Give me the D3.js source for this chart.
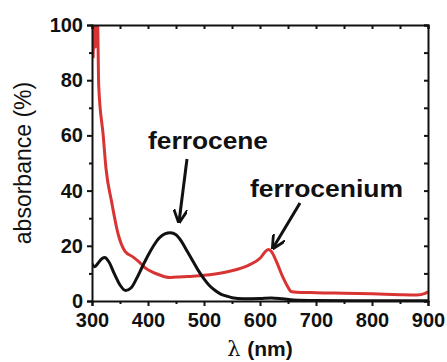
<!DOCTYPE html>
<html>
<head>
<meta charset="utf-8">
<script src="https://cdn.jsdelivr.net/npm/d3@7"></script>
<style>
  body { margin: 0; background: #fff; }
  svg { display: block; font-family: "Liberation Sans", Arial, sans-serif; }
  .axis path, .axis line { stroke: #111; stroke-width: 2; }
  .axis text { font-size: 20px; font-weight: bold; fill: #111; }
</style>
</head>
<body>
<div id="chart"></div>
<script>
'use strict';

// ferrocene (black)
const ferroceneNm  = [300, 305, 310, 318, 323, 330, 340, 350, 360, 370, 380, 390, 400, 410, 420, 430, 440, 450, 460, 470, 480, 490, 500, 510, 520, 530, 540, 550, 570, 600, 620, 640, 660, 700, 800, 900];
const ferroceneAbs = [13.5, 12.4, 13.5, 15.4, 15.8, 14.2, 9.8, 5.8, 3.8, 4.8, 8.3, 12.5, 16.5, 20, 22.8, 24.3, 24.7, 24, 21.5, 18, 14.5, 11, 8, 5.5, 3.8, 2.5, 1.8, 1.2, 0.8, 0.9, 1.1, 0.8, 0.4, 0.2, 0.1, 0.1];

// ferrocenium (red)
const ferroceniumNm  = [302, 304, 306, 308, 310, 312, 320, 325, 335, 347, 359, 373, 385, 395, 410, 420, 430, 440, 460, 480, 500, 520, 540, 560, 580, 600, 610, 615, 620, 630, 640, 650, 655, 660, 700, 750, 800, 850, 880, 895, 900];
const ferroceniumAbs = [88, 100, 92, 100, 100, 78, 60, 48, 36, 24, 18, 16, 14, 12, 10.3, 9.5, 8.8, 8.5, 8.8, 9, 9.3, 9.8, 10.5, 11.5, 13, 15.5, 18, 18.7, 18, 14, 9, 5, 3.5, 3.3, 3, 2.8, 2.6, 2.3, 2.2, 2.8, 3.3];

const xMajor = [300, 400, 500, 600, 700, 800, 900];
const xMinor = [350, 450, 550, 650, 750, 850];
const yMajor = [0, 20, 40, 60, 80, 100];
const yMinor = [10, 30, 50, 70, 90];

const W = 447, H = 362;
const margin = {top: 25, right: 19, bottom: 61, left: 92};

const svg = d3.select("#chart").append("svg")
  .attr("width", W)
  .attr("height", H);

const x = d3.scaleLinear().domain([300, 900]).range([margin.left, W - margin.right]);
const y = d3.scaleLinear().domain([0, 100]).range([H - margin.bottom, margin.top]);

svg.append("clipPath").attr("id", "clip")
  .append("rect")
  .attr("x", x(300)).attr("y", y(100))
  .attr("width", x(900) - x(300)).attr("height", y(0) - y(100));

const line = d3.line()
  .x(function(d) { return x(d[0]); })
  .y(function(d) { return y(d[1]); })
  .curve(d3.curveMonotoneX);

const plot = svg.append("g").attr("clip-path", "url(#clip)");

plot.append("path")
  .datum(d3.zip(ferroceniumNm, ferroceniumAbs))
  .attr("fill", "none")
  .attr("stroke", "#d93434")
  .attr("stroke-width", 3)
  .attr("stroke-linejoin", "round")
  .attr("d", line);

plot.append("path")
  .datum(d3.zip(ferroceneNm, ferroceneAbs))
  .attr("fill", "none")
  .attr("stroke", "#111")
  .attr("stroke-width", 3)
  .attr("stroke-linejoin", "round")
  .attr("d", line);

// axes
const bottomAxis = svg.append("g").attr("class", "axis")
  .attr("transform", "translate(0," + y(0) + ")");
bottomAxis.call(d3.axisBottom(x).tickValues(xMajor).tickSize(5).tickPadding(7).tickFormat(d3.format("d")));
bottomAxis.append("g").call(d3.axisBottom(x).tickValues(xMinor).tickSize(3).tickFormat(""))
  .select(".domain").remove();

const leftAxis = svg.append("g").attr("class", "axis")
  .attr("transform", "translate(" + x(300) + ",0)");
leftAxis.call(d3.axisLeft(y).tickValues(yMajor).tickSize(5).tickPadding(4).tickFormat(d3.format("d")));
leftAxis.append("g").call(d3.axisLeft(y).tickValues(yMinor).tickSize(3).tickFormat(""))
  .select(".domain").remove();

const topAxis = svg.append("g").attr("class", "axis")
  .attr("transform", "translate(0," + y(100) + ")");
topAxis.call(d3.axisTop(x).tickValues(xMajor.concat(xMinor)).tickSize(-4).tickFormat(""));

const rightAxis = svg.append("g").attr("class", "axis")
  .attr("transform", "translate(" + x(900) + ",0)");
rightAxis.call(d3.axisRight(y).tickValues(yMajor.concat(yMinor)).tickSize(-4).tickFormat(""));

// axis titles
svg.append("text")
  .attr("transform", "translate(31," + ((y(0) + y(100)) / 2) + ") rotate(-90)")
  .attr("text-anchor", "middle")
  .style("font-size", "23px")
  .attr("fill", "#111")
  .text("absorbance (%)");

const xt = svg.append("text")
  .attr("x", (x(300) + x(900)) / 2)
  .attr("y", 356)
  .attr("text-anchor", "middle")
  .style("font-size", "21px")
  .attr("fill", "#111");
xt.append("tspan").attr("font-family", "DejaVu Serif").text("λ ");
xt.append("tspan").attr("font-weight", "bold").text("(nm)");

// annotations
svg.append("defs").append("marker")
  .attr("id", "arrow")
  .attr("viewBox", "0 0 10 10")
  .attr("refX", 9).attr("refY", 5)
  .attr("markerWidth", 14).attr("markerHeight", 14)
  .attr("markerUnits", "userSpaceOnUse")
  .attr("orient", "auto")
  .append("path")
  .attr("d", "M0,0 L10,5 L0,10")
  .attr("fill", "none")
  .attr("stroke", "#111")
  .attr("stroke-width", 2);

const labels = [
  {text: "ferrocene", tx: 148, ty: 149, len: 120, x1: 187, y1: 159, x2: 179, y2: 222},
  {text: "ferrocenium", tx: 250, ty: 197, len: 153, x1: 300, y1: 203, x2: 273, y2: 248}
];

labels.forEach(function(l) {
  svg.append("text")
    .attr("x", l.tx).attr("y", l.ty)
    .attr("textLength", l.len)
    .attr("lengthAdjust", "spacingAndGlyphs")
    .style("font-size", "23px")
    .style("font-weight", "bold")
    .attr("fill", "#111")
    .text(l.text);
  svg.append("line")
    .attr("x1", l.x1).attr("y1", l.y1)
    .attr("x2", l.x2).attr("y2", l.y2)
    .attr("stroke", "#111")
    .attr("stroke-width", 3)
    .attr("marker-end", "url(#arrow)");
});
</script>
</body>
</html>
